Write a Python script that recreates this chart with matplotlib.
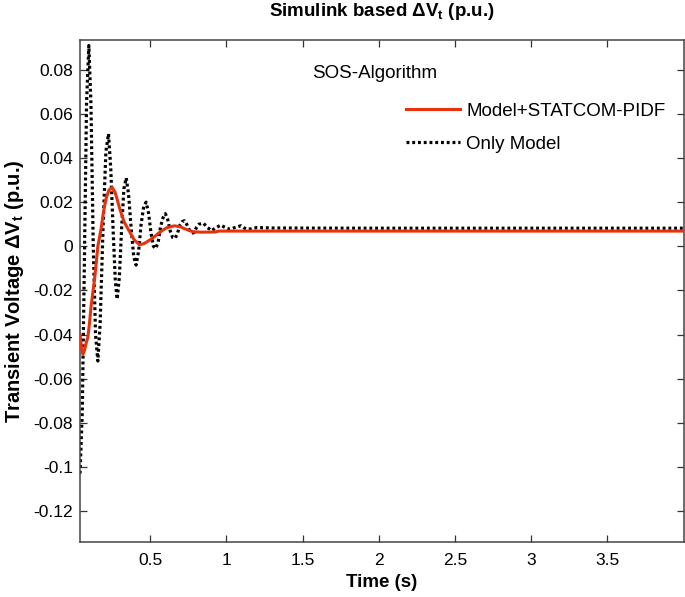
import matplotlib
matplotlib.use("Agg")
import matplotlib.pyplot as plt

plt.rcParams['font.family'] = ['Liberation Sans', 'DejaVu Sans']
plt.rcParams['mathtext.fontset'] = 'custom'
plt.rcParams['mathtext.rm'] = 'Liberation Sans'
plt.rcParams['mathtext.bf'] = 'Liberation Sans:bold'
plt.rcParams['mathtext.it'] = 'Liberation Sans:italic'

# ---- data ----
t_pidf = [0.040, 0.050, 0.059, 0.070, 0.080, 0.092, 0.102, 0.113, 0.124, 0.135,
          0.146, 0.157, 0.168, 0.179, 0.195, 0.212, 0.230, 0.251, 0.270, 0.285,
          0.299, 0.330, 0.364, 0.395, 0.430, 0.460, 0.490, 0.518, 0.560, 0.605,
          0.659, 0.700, 0.725, 0.755, 0.784, 0.840, 0.930, 0.950, 1.200, 4.000]
v_pidf = [-0.040, -0.046, -0.049, -0.047, -0.044, -0.041, -0.035, -0.027, -0.021, -0.0153,
          -0.008, 0.000, 0.004, 0.0083, 0.016, 0.0219, 0.0255, 0.0267, 0.0245, 0.021,
          0.0174, 0.011, 0.0068, 0.003, 0.0007, 0.0012, 0.0025, 0.0038, 0.0062, 0.0083,
          0.0093, 0.0088, 0.008, 0.0072, 0.0066, 0.0064, 0.0065, 0.0069, 0.0069, 0.0069]

t_model = [0.040, 0.055, 0.069, 0.083, 0.098, 0.112, 0.127, 0.142, 0.157, 0.172,
           0.192, 0.210, 0.227, 0.242, 0.257, 0.272, 0.284, 0.298, 0.313, 0.328,
           0.343, 0.358, 0.376, 0.393, 0.408, 0.425, 0.441, 0.458, 0.474, 0.490,
           0.506, 0.522, 0.537, 0.553, 0.569, 0.585, 0.600, 0.616, 0.632, 0.648,
           0.664, 0.680, 0.695, 0.710, 0.725, 0.740, 0.757, 0.772, 0.788, 0.804,
           0.820, 0.849, 0.877, 0.904, 0.933, 0.963, 0.994, 1.024, 1.060, 1.096,
           1.120, 1.144, 1.200, 1.300, 2.000, 4.000]
v_model = [-0.103, -0.075, -0.006, 0.065, 0.091, 0.064, 0.000, -0.040, -0.052, -0.035,
           0.010, 0.043, 0.051, 0.035, 0.008, -0.016, -0.024, -0.014, 0.008, 0.026,
           0.031, 0.024, 0.008, -0.005, -0.0085, -0.002, 0.010, 0.018, 0.020, 0.015,
           0.006, 0.000, -0.001, 0.002, 0.009, 0.013, 0.0148, 0.012, 0.007, 0.004,
           0.0036, 0.006, 0.0095, 0.0112, 0.0116, 0.010, 0.0075, 0.006, 0.0062, 0.0085,
           0.010, 0.0105, 0.0085, 0.0071, 0.0085, 0.0096, 0.0085, 0.0077, 0.0086, 0.0093,
           0.0082, 0.0077, 0.0085, 0.0083, 0.0082, 0.0082]

xticks = [0.5, 1, 1.5, 2, 2.5, 3, 3.5]
xticklabels = ['0.5', '1', '1.5', '2', '2.5', '3', '3.5']
yticks = [-0.12, -0.1, -0.08, -0.06, -0.04, -0.02, 0, 0.02, 0.04, 0.06, 0.08]
yticklabels = ['-0.12', '-0.1', '-0.08', '-0.06', '-0.04', '-0.02', '0',
               '0.02', '0.04', '0.06', '0.08']
labels = ['Model+STATCOM-PIDF', 'Only Model']

fig = plt.figure(figsize=(6.85, 5.97), dpi=100)
ax = fig.add_axes([80 / 685, 1 - 542 / 597, (683.5 - 80) / 685, (542 - 40) / 597])

ax.plot(t_model, v_model, color='black', lw=2.3, linestyle=(0, (0.9, 0.9)),
        label=labels[1], zorder=2)
ax.plot(t_pidf, v_pidf, color='#e8320e', lw=2.2, label=labels[0], zorder=3)

ax.set_xlim(0.04, 4.0)
ax.set_ylim(-0.134, 0.0935)
ax.set_xticks(xticks)
ax.set_xticklabels(xticklabels)
ax.set_yticks(yticks)
ax.set_yticklabels(yticklabels)
ax.tick_params(direction='in', top=True, right=True, length=5, width=0.9,
               labelsize=12.5, color='#333333')
ax.tick_params(axis='y', pad=5)
ax.tick_params(axis='x', pad=8)
for s in ax.spines.values():
    s.set_color('#444444')
    s.set_linewidth(1.1)

ax.set_title(r'Simulink based $\mathbf{\Delta V_t}$ (p.u.)', fontsize=13.5,
             fontweight='bold', pad=17)
ax.set_xlabel('Time (s)', fontsize=13.5, fontweight='bold', labelpad=4)
ax.set_ylabel(r'Transient Voltage $\mathbf{\Delta V_t}$ (p.u.)', fontsize=14.5,
              fontweight='bold', labelpad=5)

ax.text(0.488, 0.934, 'SOS-Algorithm', transform=ax.transAxes, fontsize=13.5,
        ha='center', va='center')

h, l = ax.get_legend_handles_labels()
ax.legend([h[1], h[0]], [l[1], l[0]], loc='upper left', bbox_to_anchor=(0.541, 0.875),
          frameon=False, fontsize=13.5, handlelength=2.83, handletextpad=0.37,
          labelspacing=0.84, borderpad=0, borderaxespad=0)

fig.savefig('out.png', dpi=100)
